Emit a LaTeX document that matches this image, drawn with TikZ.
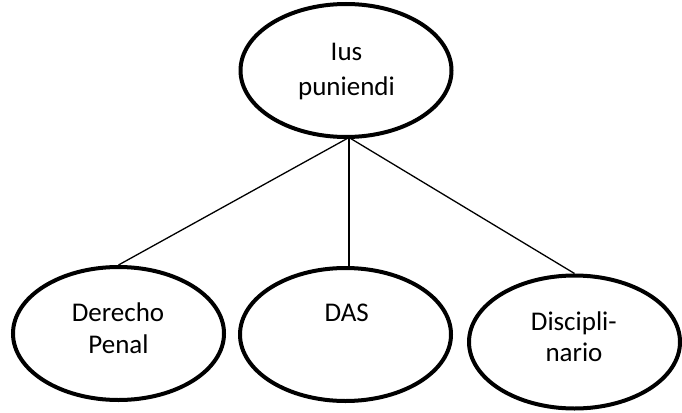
\documentclass[tikz,border=0pt]{standalone}
\usepackage{fontspec}
\setmainfont{Carlito}
\usetikzlibrary{shapes.geometric}
\begin{document}
\begin{tikzpicture}[x=1pt,y=-1pt,
  bubble/.style={ellipse, draw, line width=4pt, minimum width=211pt,
                 minimum height=133pt, inner sep=0pt},
  link/.style={line width=1.3pt},
  txt/.style={anchor=base, inner sep=0pt, font=\fontsize{27}{32}\selectfont}]
\useasboundingbox (0,0) rectangle (682,412);

% ellipses
\node[bubble] (ius) at (346,70.5) {};
\node[bubble] (penal) at (118.5,333.5) {};
\node[bubble] (das) at (345.5,334.5) {};
\node[bubble] (disc) at (574.5,342) {};

% connectors from the bottom of the top ellipse
\coordinate (hub) at (349,137.5);
\draw[link] (hub) -- (penal.north);
\draw[link] (hub) -- (das.north -| hub);
\draw[link] (hub) -- (disc.north);

% labels
\node[txt] (ius1) at (346.5,60.7) {Ius};
\node[txt] (ius2) at (346.5,95) {puniendi};
\node[txt] (pen1) at (118,321.7) {Derecho};
\node[txt] (pen2) at (118.5,353.3) {Penal};
\node[txt] (das1) at (346.7,321.7) {DAS};
\node[txt] (dis1) at (573.8,330) {Discipli-};
\node[txt] (dis2) at (574,361.7) {nario};
\end{tikzpicture}
\end{document}
